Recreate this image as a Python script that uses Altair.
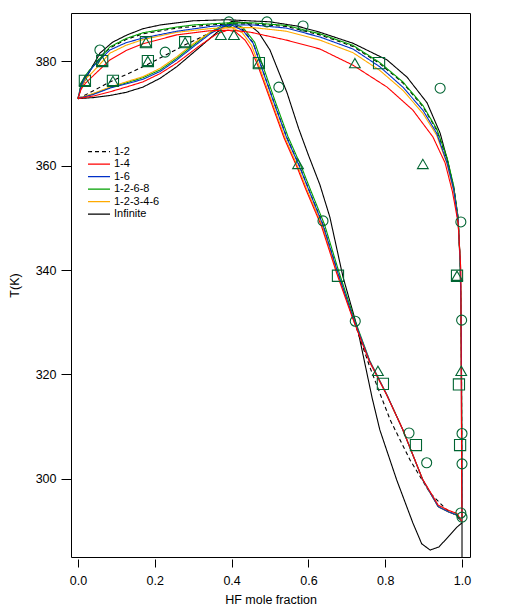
import altair as alt
import pandas as pd

# ---------------- data ----------------
MODELS = ["1-2", "1-4", "1-6", "1-2-6-8", "1-2-3-4-6", "Infinite"]
COLORS = ["#000000", "#ff0000", "#0030c8", "#00a000", "#ffaa00", "#000000"]
DASHES = [[4, 3], [1, 0], [1, 0], [1, 0], [1, 0], [1, 0]]

X_TICKS = [0.0, 0.2, 0.4, 0.6, 0.8, 1.0]
Y_TICKS = [300, 320, 340, 360, 380]

# model 1-2 (dashed black)
D_VAP = [(0.0, 372.8), (0.008, 375.4), (0.02, 377.2), (0.04, 379.2), (0.083, 382.5), (0.125, 384.1),
         (0.169, 385.2), (0.257, 386.3), (0.344, 386.9), (0.39, 387.1), (0.456, 387.1), (0.543, 386.6),
         (0.63, 385.0), (0.716, 382.8), (0.786, 379.5), (0.846, 375.8), (0.898, 371.3), (0.934, 366.8),
         (0.961, 361.2), (0.978, 356.0), (0.99, 350.0), (0.995, 342.0), (0.998, 330.0), (1.0, 300.0),
         (1.0, 292.5)]
D_LIQ = [(0.0, 372.8), (0.04, 374.3), (0.083, 376.0), (0.125, 377.4), (0.169, 378.9), (0.225, 381.0),
         (0.279, 383.1), (0.344, 385.4), (0.385, 386.8), (0.40, 387.1), (0.43, 386.0), (0.456, 383.5),
         (0.474, 379.7), (0.508, 372.6), (0.543, 365.5), (0.578, 359.7), (0.60, 355.6), (0.638, 348.7),
         (0.677, 339.4), (0.716, 330.8), (0.76, 321.4), (0.813, 311.3), (0.865, 303.6), (0.917, 297.3),
         (0.96, 294.1), (0.985, 293.0), (1.0, 291.8)]

# model 1-4 (red)
R_VAP = [(0.0, 372.8), (0.008, 374.6), (0.02, 375.8), (0.04, 377.2), (0.083, 380.2), (0.125, 382.0),
         (0.169, 383.3), (0.257, 385.0), (0.344, 385.8), (0.40, 385.9), (0.45, 385.5), (0.543, 384.0),
         (0.63, 382.3), (0.716, 379.2), (0.805, 375.0), (0.872, 370.6), (0.924, 365.5), (0.956, 360.5),
         (0.975, 355.0), (0.99, 349.0), (0.997, 340.0), (0.998, 320.0), (0.999, 300.0), (1.0, 292.5)]
R_LIQ = [(0.0, 372.8), (0.04, 373.3), (0.083, 374.1), (0.125, 375.0), (0.169, 376.0), (0.214, 377.6),
         (0.257, 379.6), (0.318, 383.0), (0.362, 385.2), (0.39, 385.9), (0.41, 385.6), (0.435, 384.0),
         (0.45, 382.3), (0.468, 379.2), (0.502, 372.3), (0.537, 365.2), (0.572, 359.4), (0.594, 355.3),
         (0.634, 348.4), (0.674, 339.3), (0.714, 331.0), (0.758, 322.6), (0.803, 316.2), (0.845, 309.6),
         (0.897, 300.0), (0.938, 295.0), (0.965, 294.0), (0.987, 293.4), (1.0, 291.8)]

# model 1-6 (blue)
B_VAP = [(0.0, 372.8), (0.008, 375.2), (0.02, 377.0), (0.04, 379.0), (0.083, 382.1), (0.125, 383.5),
         (0.169, 384.4), (0.257, 385.7), (0.344, 386.6), (0.39, 386.9), (0.456, 386.9), (0.543, 386.3),
         (0.63, 384.6), (0.716, 382.3), (0.786, 378.9), (0.846, 375.0), (0.898, 370.6), (0.934, 366.2),
         (0.961, 360.5), (0.978, 355.5), (0.99, 349.5), (0.995, 342.0), (0.998, 330.0), (0.999, 315.0),
         (1.0, 300.0), (1.0, 292.5)]
B_LIQ = [(0.0, 372.8), (0.04, 373.6), (0.083, 374.8), (0.125, 375.6), (0.169, 376.5), (0.214, 378.0),
         (0.257, 380.2), (0.30, 382.7), (0.344, 385.2), (0.378, 386.6), (0.40, 386.9), (0.43, 385.8),
         (0.456, 383.4), (0.474, 379.6), (0.508, 372.5), (0.543, 365.4), (0.578, 359.6), (0.60, 355.5),
         (0.638, 348.6), (0.677, 339.4), (0.716, 331.0), (0.76, 322.5), (0.805, 316.0), (0.846, 309.4),
         (0.898, 299.8), (0.938, 294.7), (0.965, 293.7), (0.987, 293.1), (1.0, 291.8)]

# model 1-2-6-8 (green)
G_VAP = [(0.0, 372.8), (0.008, 375.6), (0.02, 377.3), (0.031, 378.3), (0.083, 382.7), (0.125, 384.3),
         (0.169, 385.4), (0.257, 386.5), (0.30, 386.9), (0.39, 387.3), (0.456, 387.3), (0.543, 386.8),
         (0.63, 385.2), (0.716, 383.0), (0.786, 379.7), (0.846, 376.0), (0.898, 371.5), (0.934, 367.0),
         (0.961, 361.5), (0.978, 356.2), (0.99, 350.0), (0.995, 342.0), (0.998, 330.0), (1.0, 300.0),
         (1.0, 292.5)]
G_LIQ = [(0.0, 372.8), (0.04, 373.7), (0.083, 374.9), (0.125, 375.8), (0.169, 376.8), (0.214, 378.3),
         (0.257, 380.5), (0.30, 383.0), (0.344, 385.5), (0.378, 386.9), (0.40, 387.3), (0.43, 386.4),
         (0.46, 383.6), (0.478, 379.8), (0.512, 372.6), (0.547, 365.5), (0.582, 359.7), (0.604, 355.6),
         (0.642, 348.7), (0.68, 339.5), (0.718, 331.0), (0.76, 322.6), (0.805, 316.0), (0.846, 309.4),
         (0.898, 299.8), (0.938, 294.7), (0.965, 293.7), (0.987, 293.1), (1.0, 291.8)]

# model 1-2-3-4-6 (orange)
O_VAP = [(0.0, 372.8), (0.008, 374.9), (0.02, 376.6), (0.04, 378.0), (0.083, 381.5), (0.125, 383.0),
         (0.169, 384.1), (0.257, 385.5), (0.344, 386.2), (0.39, 386.4), (0.456, 386.4), (0.543, 385.7),
         (0.63, 384.0), (0.716, 381.6), (0.786, 378.2), (0.846, 374.4), (0.898, 370.0), (0.934, 365.8),
         (0.961, 360.3), (0.978, 355.2), (0.99, 349.3), (0.995, 342.0), (0.998, 330.0), (1.0, 300.0),
         (1.0, 292.5)]
O_LIQ = [(0.0, 372.8), (0.04, 373.8), (0.083, 375.0), (0.125, 376.0), (0.169, 377.0), (0.214, 378.6),
         (0.257, 380.8), (0.30, 383.3), (0.344, 385.5), (0.38, 386.3), (0.40, 386.4), (0.428, 385.4),
         (0.452, 383.0), (0.47, 379.4), (0.504, 372.4), (0.539, 365.3), (0.574, 359.5), (0.596, 355.4),
         (0.636, 348.5), (0.675, 339.4), (0.715, 331.0), (0.76, 322.5), (0.805, 316.0), (0.846, 309.4),
         (0.898, 299.8), (0.938, 294.7), (0.965, 293.7), (0.987, 293.1), (1.0, 291.8)]

# model Infinite (solid black)
I_VAP = [(0.0, 372.8), (0.008, 374.8), (0.023, 377.0), (0.057, 381.5), (0.09, 383.6), (0.128, 385.0),
         (0.17, 386.2), (0.214, 386.9), (0.30, 387.7), (0.388, 387.9), (0.5, 387.5), (0.57, 386.7),
         (0.63, 385.5), (0.716, 383.4), (0.805, 380.2), (0.857, 376.9), (0.909, 372.0), (0.943, 366.2),
         (0.964, 360.5), (0.98, 355.0), (0.99, 349.0), (0.996, 340.0), (0.998, 325.0), (0.999, 305.0),
         (1.0, 292.0), (1.0, 284.0)]
I_LIQ = [(0.0, 372.8), (0.04, 373.0), (0.083, 373.4), (0.125, 374.0), (0.169, 375.0), (0.214, 376.7),
         (0.257, 378.9), (0.318, 382.7), (0.362, 385.5), (0.40, 387.6), (0.44, 387.3), (0.47, 385.5),
         (0.50, 382.1), (0.544, 374.0), (0.575, 367.0), (0.60, 362.0), (0.63, 356.3), (0.656, 350.1),
         (0.69, 338.7), (0.727, 329.1), (0.766, 315.5), (0.786, 309.4), (0.83, 299.8), (0.872, 291.6),
         (0.895, 287.6), (0.917, 286.4), (0.94, 287.0), (0.965, 289.0), (0.987, 290.8), (1.0, 291.6)]

# experimental points
CIRCLES = [(0.057, 382.1), (0.227, 381.7), (0.393, 387.5), (0.492, 387.5), (0.586, 386.7), (0.943, 374.8),
           (0.523, 375.0), (0.638, 349.4), (0.722, 330.2), (0.862, 308.8), (0.908, 303.1), (0.997, 349.2),
           (0.999, 330.4), (1.0, 308.7), (1.0, 302.9), (0.997, 293.5), (1.0, 292.7)]
TRIANGLES = [(0.372, 385.0), (0.406, 385.0), (0.721, 379.6), (0.898, 360.3), (0.573, 360.3), (0.781, 320.7),
             (0.987, 338.9), (0.998, 320.7), (0.018, 376.2), (0.063, 380.0), (0.091, 376.2), (0.177, 383.6),
             (0.182, 380.0), (0.279, 383.6), (0.471, 379.6)]
SQUARES = [(0.018, 376.2), (0.063, 380.0), (0.091, 376.2), (0.177, 383.6), (0.182, 380.0), (0.279, 383.6),
           (0.471, 379.6), (0.784, 379.6), (0.677, 338.9), (0.794, 318.2), (0.880, 306.5), (0.987, 338.9),
           (0.992, 318.1), (0.995, 306.5)]

CURVES = {
    "1-2": (D_VAP, D_LIQ),
    "1-4": (R_VAP, R_LIQ),
    "1-6": (B_VAP, B_LIQ),
    "1-2-6-8": (G_VAP, G_LIQ),
    "1-2-3-4-6": (O_VAP, O_LIQ),
    "Infinite": (I_VAP, I_LIQ),
}
DRAW_ORDER = ["Infinite", "1-2", "1-2-6-8", "1-2-3-4-6", "1-6", "1-4"]

# ---------------- build tables ----------------
def curve_frame(model):
    rows = []
    vap, liq = CURVES[model]
    for branch, pts in (("vapor", vap), ("liquid", liq)):
        for i, (x, t) in enumerate(pts):
            rows.append({"model": model, "branch": model + "_" + branch, "x": x, "T": t, "i": i})
    return pd.DataFrame(rows)

def pts_frame(pts):
    return pd.DataFrame({"x": [p[0] for p in pts], "T": [p[1] for p in pts]})

FONT = "Liberation Sans"
XMIN, XMAX = -0.0182, 1.0208
YMIN, YMAX = 285.07, 389.19

xscale = alt.Scale(domain=[XMIN, XMAX], nice=False, zero=False)
yscale = alt.Scale(domain=[YMIN, YMAX], nice=False, zero=False)

xenc = alt.X("x:Q", scale=xscale,
             axis=alt.Axis(title="HF mole fraction", values=X_TICKS, format=".1f", domain=False,
                           grid=False, tickSize=8, offset=2, labelPadding=7, titlePadding=7,
                           labelFont=FONT, titleFont=FONT, labelFontSize=12.5, titleFontSize=12.5,
                           titleFontWeight="normal", labelColor="black", titleColor="black",
                           tickColor="black", labelFlush=False))
yenc = alt.Y("T:Q", scale=yscale,
             axis=alt.Axis(title="T(K)", values=Y_TICKS, domain=False, grid=False, tickSize=10,
                           labelPadding=5, titlePadding=14, labelFont=FONT, titleFont=FONT,
                           labelFontSize=12.5, titleFontSize=12.5, titleFontWeight="normal",
                           labelColor="black", titleColor="black", tickColor="black"))

color_scale = alt.Scale(domain=MODELS, range=COLORS)
dash_scale = alt.Scale(domain=MODELS, range=DASHES)

layers = []
for m in DRAW_ORDER:
    layers.append(
        alt.Chart(curve_frame(m)).mark_line(strokeWidth=1.1, clip=True).encode(
            x=xenc, y=yenc,
            color=alt.Color("model:N", scale=color_scale, legend=None),
            strokeDash=alt.StrokeDash("model:N", scale=dash_scale, legend=None),
            detail="branch:N",
            order="i:Q",
        )
    )

MARK_COLOR = "#006432"
for pts, shape, size in ((CIRCLES, "circle", 100), (TRIANGLES, "triangle-up", 115), (SQUARES, "square", 125)):
    layers.append(
        alt.Chart(pts_frame(pts)).mark_point(shape=shape, size=size, filled=False, color=MARK_COLOR,
                                             strokeWidth=1.1, opacity=1, clip=True).encode(x=xenc, y=yenc)
    )

plot = alt.layer(*layers)

# ---------------- legend (drawn as a small key inside the plot) ----------------
legend_df = pd.DataFrame({"model": MODELS, "row": list(range(len(MODELS)))})
row_scale = alt.Scale(domain=[0, len(MODELS) - 1], range=[138.7, 201.2])
key_lines = alt.Chart(legend_df).mark_rule(strokeWidth=1.2).encode(
    y=alt.Y("row:Q", scale=row_scale, axis=None),
    x=alt.value(17), x2=alt.value(39),
    color=alt.Color("model:N", scale=color_scale, legend=None),
    strokeDash=alt.StrokeDash("model:N", scale=dash_scale, legend=None),
)
key_text = alt.Chart(legend_df).mark_text(align="left", baseline="middle", font=FONT, fontSize=11,
                                          color="black").encode(
    y=alt.Y("row:Q", scale=row_scale, axis=None),
    x=alt.value(43),
    text="model:N",
)
key = alt.layer(key_lines, key_text)

chart = alt.layer(plot, key).resolve_scale(y="independent").properties(
    width=399, height=544,
    autosize=alt.AutoSizeParams(type="none"),
    padding={"left": 63, "top": 5, "right": 27, "bottom": 52},
    background="white",
).configure_view(stroke="black", strokeWidth=1)

chart.save("out.html", embed_options={"renderer": "svg", "actions": False})
